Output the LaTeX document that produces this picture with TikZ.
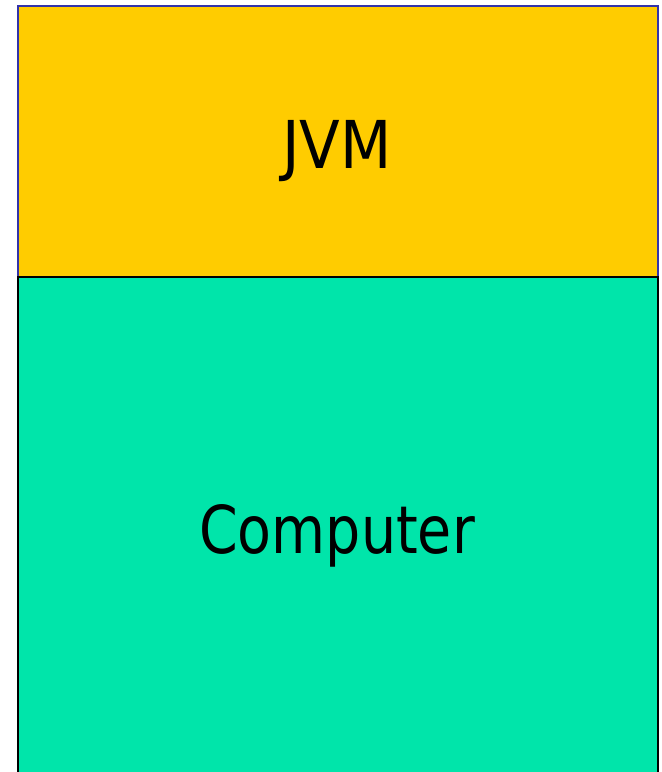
\documentclass[tikz,border=0pt]{standalone}
\usepackage{fontspec}
\usepackage{graphicx}
\setmainfont{DejaVu Sans}
\definecolor{jvmfill}{HTML}{FFCC00}
\definecolor{jvmline}{HTML}{3333AA}
\definecolor{compfill}{HTML}{00E5AA}
\tikzset{
  layer/.style={line width=1.6pt},
  lbl/.style={anchor=base, inner sep=0pt, font=\fontsize{66}{70}\selectfont}
}
\begin{document}
\begin{tikzpicture}[x=1pt,y=-1pt]
\useasboundingbox (0,0) rectangle (662,772);
\fill[white] (0,0) rectangle (662,772);
\draw[layer, draw=jvmline, fill=jvmfill] (18,6) rectangle (658,277);
\draw[layer, draw=black, fill=compfill] (18,277) rectangle (658,790);
\node[lbl] (jvm) at (337,168) {\scalebox{0.9}[1]{JVM}};
\node[lbl] (comp) at (337,553) {\scalebox{0.84}[1]{Computer}};
\end{tikzpicture}
\end{document}
